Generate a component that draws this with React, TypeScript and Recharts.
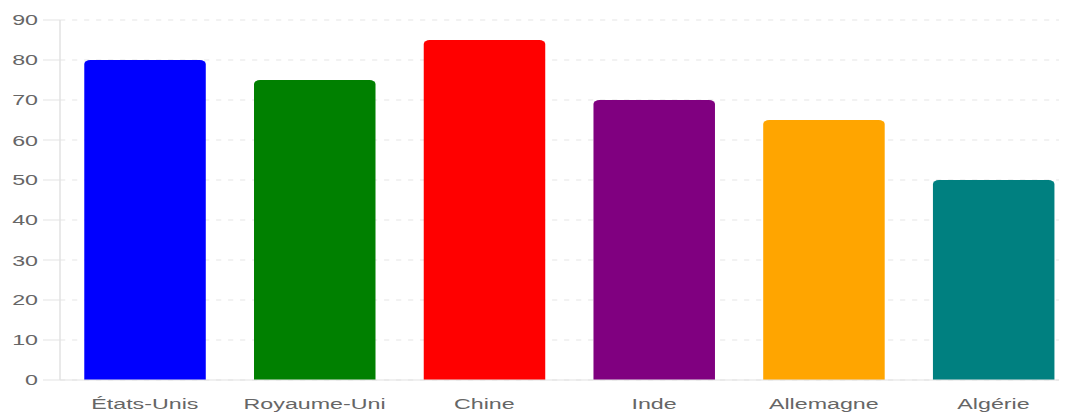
import { BarChart, Bar, XAxis, YAxis, CartesianGrid, Cell } from "recharts";

const countries = ["États-Unis", "Royaume-Uni", "Chine", "Inde", "Allemagne", "Algérie"];
const scores = [80, 75, 85, 70, 65, 50];
const barColors = ["#0000ff", "#008000", "#ff0000", "#800080", "#ffa500", "#008080"];
const yTicks = [0, 10, 20, 30, 40, 50, 60, 70, 80, 90];

// the reference looks stretched sideways, so the chart is drawn narrow and widened with CSS
const STRETCH = 1.5;
const FONT = "'Liberation Sans', Arial, sans-serif";
const AXIS_GRAY = "#e2e2e2";

export default function App() {
  const data = countries.map((country, i) => ({ country, score: scores[i] }));

  return (
    <div style={{ width: 1059, height: 404, overflow: "hidden" }}>
      <div style={{ transform: `scaleX(${STRETCH})`, transformOrigin: "0 0", width: 716 }}>
        <BarChart
          width={716}
          height={404}
          data={data}
          margin={{ top: 12, right: 2.4, bottom: 0, left: 0 }}
          barCategoryGap="14.3%"
        >
          <CartesianGrid vertical={false} stroke="#e6e6e6" strokeDasharray="3.5 4.5" />
          <XAxis
            dataKey="country"
            interval={0}
            height={32}
            tickLine={false}
            tickSize={0}
            tickMargin={18}
            axisLine={{ stroke: AXIS_GRAY }}
            tick={{ fill: "#666", fontSize: 15.5, fontFamily: FONT }}
          />
          <YAxis
            width={34.67}
            domain={[0, 90]}
            ticks={yTicks}
            tickSize={11.33}
            tickMargin={3.33}
            tickLine={{ stroke: AXIS_GRAY }}
            axisLine={{ stroke: AXIS_GRAY }}
            tick={{ fill: "#666", fontSize: 15.5, fontFamily: FONT }}
          />
          <Bar dataKey="score" radius={[4, 4, 0, 0]} isAnimationActive={false}>
            {data.map((d, i) => (
              <Cell key={d.country} fill={barColors[i]} />
            ))}
          </Bar>
        </BarChart>
      </div>
    </div>
  );
}
